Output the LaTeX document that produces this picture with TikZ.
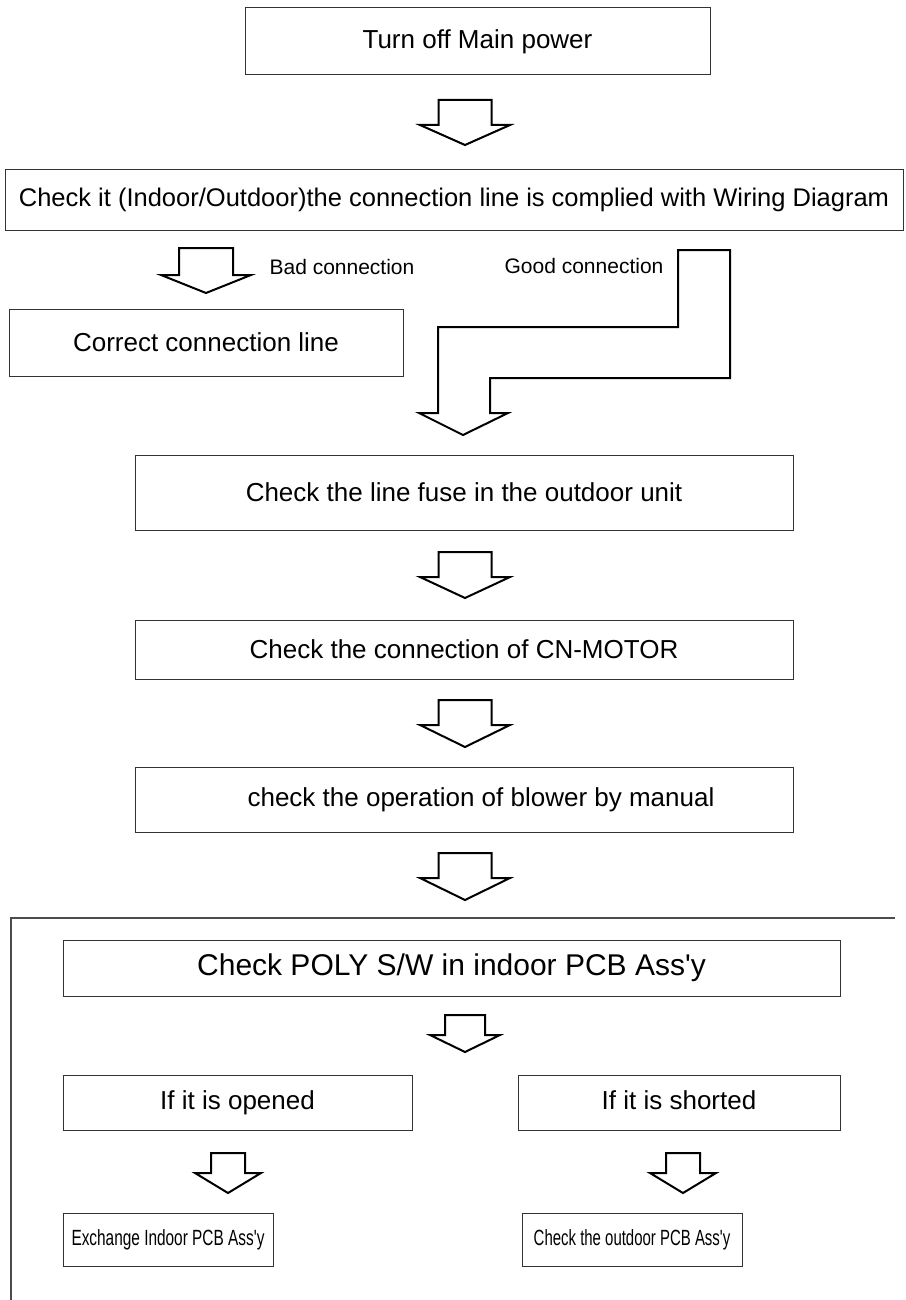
\documentclass[tikz,border=0pt]{standalone}
\usepackage{fontspec}
\setmainfont{Liberation Sans}[Ligatures=TeXOff]
\tikzset{
  pics/blockarrow/.style n args={4}{code={
    \draw[barrow] (-#1,0) -- (#1,0) -- (#1,#3) -- (#2,#3) -- (0,#4) -- (-#2,#3) -- (-#1,#3) -- cycle;}},
  box/.style={draw=black!80, line width=1pt, rectangle, inner sep=0pt, font=\fontsize{26}{30}\selectfont},
  barrow/.style={draw=black, line width=2pt, line join=miter, fill=white},
  frameline/.style={draw=black!70, line width=1.5pt},
  lbl/.style={inner sep=0pt, font=\fontsize{21}{24}\selectfont}
}
\begin{document}
\begin{tikzpicture}[x=1pt,y=-1pt]
\useasboundingbox[fill=white] (0,0) rectangle (905,1300);

% boxes
\node[box, minimum width=465pt, minimum height=67pt] (b1) at (477.5,41.5) {Turn off Main power};
\node[box, minimum width=898pt, minimum height=60pt, font=\fontsize{25.5}{30}\selectfont] (b2) at (454,200) {Check it (Indoor/Outdoor)the connection line is complied with Wiring Diagram};
\node[box, minimum width=394pt, minimum height=67pt] (b3) at (206,342.5) {Correct connection line};
\node[box, minimum width=658pt, minimum height=75pt] (b4) at (464,492.5) {Check the line fuse in the outdoor unit};
\node[box, minimum width=658pt, minimum height=59pt] (b5) at (464,649.5) {Check the connection of CN-MOTOR};
\node[box, minimum width=658pt, minimum height=65pt] (b6) at (464,799.5) {\hspace*{34pt}check the operation of blower by manual};
\node[box, minimum width=777pt, minimum height=56pt, font=\fontsize{30}{34}\selectfont] (b7) at (451.5,968) {Check POLY S/W in indoor PCB Ass'y};
\node[box, minimum width=349pt, minimum height=55pt] (b8) at (237.5,1102.5) {If it is opened\vphantom{y}};
\node[box, minimum width=322pt, minimum height=55pt] (b9) at (679,1102.5) {If it is shorted\vphantom{y}};
\node[box, minimum width=210pt, minimum height=53pt, font=\fontsize{22}{26}\selectfont] (b10) at (168,1239.5) {\scalebox{0.7}[1]{Exchange Indoor PCB Ass'y}};
\node[box, minimum width=220pt, minimum height=53pt, font=\fontsize{22}{26}\selectfont] (b11) at (632,1239.5) {\scalebox{0.68}[1]{Check the outdoor PCB Ass'y}};

% labels
\node[lbl] (bad) at (342,267) {Bad connection};
\node[lbl] (good) at (584,266) {Good connection};

% frame around the last stage
\draw[frameline] (895,918) -- (11,918) -- (11,1302);

% block arrows
\pic at (465,100) {blockarrow={26.5}{45}{25}{45}};
\pic at (206,248) {blockarrow={27}{45}{27}{45}};
\draw[barrow] (678,250) -- (730,250) -- (730,378) -- (490,378) -- (490,413) -- (508,413)
  -- (463,435) -- (419,413) -- (438,413) -- (438,327) -- (678,327) -- cycle;
\pic at (465,552) {blockarrow={26.5}{45}{25}{46}};
\pic at (465,700) {blockarrow={26.5}{45}{25}{47}};
\pic at (465,853) {blockarrow={26.5}{45}{25}{47}};
\pic at (465,1015) {blockarrow={20}{35}{20}{37}};
\pic at (228,1153) {blockarrow={17}{33}{20}{40}};
\pic at (683,1153) {blockarrow={17}{33}{20}{40}};
\end{tikzpicture}
\end{document}
